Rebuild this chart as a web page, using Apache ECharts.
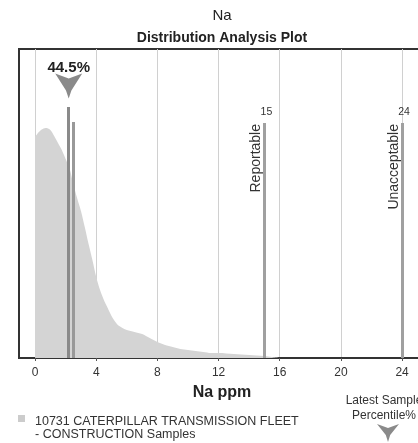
<!DOCTYPE html>
<html>
<head>
<meta charset="utf-8">
<script src="https://cdn.jsdelivr.net/npm/echarts@6/dist/echarts.min.js"></script>
<style>
html,body{margin:0;padding:0;overflow:hidden;background:#fff;}
#c{width:444px;height:443px;}
</style>
</head>
<body>
<div id="c"></div>
<script>
// ---- data ----
const densityX = [0,0.25,0.5,0.75,1.0,1.25,1.5,1.75,2.0,2.25,2.5,2.75,3.0,3.25,3.5,3.75,4.0,4.25,4.5,4.75,5.0,5.25,5.5,6.0,6.5,7.0,7.5,8.0,8.5,9.0,9.5,10,10.5,11,11.5,12,13,14,15,15.5,16];
const densityY = [221,226,229,230,228,222,215,208,199,190,174,160,147,131,114,98,81,68,58,50,42,36,32,28,26,24,20,16,13,11,9,8,7,6,5,5,4,3,2,1,0];
const latestValue = 2.2;
const latestPercentile = '44.5%';
const previousValue = 2.5;
const limitValues = [15, 24];
const limitNames = ['Reportable', 'Unacceptable'];
const xTicks = [0, 4, 8, 12, 16, 20, 24];
const titleText = 'Na';
const subTitleText = 'Distribution Analysis Plot';
const xAxisName = 'Na ppm';
const legendLines = ['10731 CATERPILLAR TRANSMISSION FLEET', '- CONSTRUCTION Samples'];
const percentileCaption = ['Latest Sample', 'Percentile%'];

const FONT = '"Liberation Sans", Arial, sans-serif';
const arrowPath = 'path://M0,0 L50,20 L100,0 L60,68 L50,100 L40,68 Z';

const seriesData = densityX.map((x, i) => [x, densityY[i]]);

const limitLines = limitValues.map((v, i) => [
  {coord: [v, 0]},
  {coord: [v, 235], label: {show: true, position: 'insideEndTop', formatter: limitNames[i], fontSize: 14, color: '#333', fontFamily: FONT, distance: 1}}
]);
const limitNumberPoints = limitValues.map((v) => ({
  coord: [v, 235],
  symbol: 'circle',
  symbolSize: 0,
  label: {show: true, position: 'top', distance: 5, offset: [2, 0], formatter: String(v), fontSize: 10.5, fontWeight: 'normal', color: '#333', fontFamily: FONT}
}));

const chart = echarts.init(document.getElementById('c'), null, {renderer: 'canvas'});
chart.setOption({
  animation: false,
  backgroundColor: '#fff',
  textStyle: {fontFamily: FONT},
  title: {
    text: titleText,
    subtext: subTitleText,
    left: 'center',
    top: 3,
    itemGap: 8,
    textStyle: {fontSize: 15, fontWeight: 'normal', color: '#222', fontFamily: FONT},
    subtextStyle: {fontSize: 14, fontWeight: 'bold', color: '#222', fontFamily: FONT}
  },
  grid: {left: 19, right: 19, top: 49, bottom: 85, show: true, borderColor: '#333', borderWidth: 2, backgroundColor: '#fff'},
  xAxis: {
    type: 'value',
    min: -1.05,
    max: 25.5,
    name: xAxisName,
    nameLocation: 'middle',
    nameGap: 27,
    nameTextStyle: {fontSize: 16, fontWeight: 'bold', color: '#222', fontFamily: FONT},
    axisLine: {show: true, lineStyle: {color: '#333', width: 2}},
    axisTick: {show: true, length: 3, customValues: xTicks, lineStyle: {color: '#555'}},
    axisLabel: {customValues: xTicks, fontSize: 12, color: '#333', margin: 9, fontFamily: FONT},
    splitLine: {show: true, lineStyle: {color: '#d0d0d0', width: 1}}
  },
  yAxis: {type: 'value', min: 0, max: 309, show: false, splitLine: {show: false}},
  series: [{
    name: 'Samples',
    type: 'line',
    data: seriesData,
    smooth: 0.3,
    showSymbol: false,
    lineStyle: {width: 0},
    areaStyle: {color: '#d4d4d4', opacity: 1},
    z: 2,
    markLine: {
      silent: true,
      symbol: 'none',
      lineStyle: {type: 'solid', color: '#a0a0a0', width: 3},
      label: {show: false},
      data: [
        [{coord: [latestValue, 0], lineStyle: {color: '#8a8a8a', width: 3}}, {coord: [latestValue, 251]}],
        [{coord: [previousValue, 0], lineStyle: {color: '#999', width: 3}}, {coord: [previousValue, 236]}]
      ].concat(limitLines)
    },
    markPoint: {
      silent: true,
      data: [{
        coord: [latestValue, 272],
        symbol: arrowPath,
        symbolSize: [27, 25],
        itemStyle: {color: '#8a8a8a'},
        label: {show: true, position: 'top', distance: -2, formatter: latestPercentile, fontSize: 15, fontWeight: 'bold', color: '#222', fontFamily: FONT}
      }].concat(limitNumberPoints)
    }
  }],
  graphic: [
    {type: 'rect', shape: {x: 18, y: 415, width: 7, height: 7}, style: {fill: '#cccccc'}},
    {type: 'text', x: 35, y: 415, style: {text: legendLines.join('\n'), font: '12.5px ' + FONT, fill: '#333', lineHeight: 13, textAlign: 'left', textVerticalAlign: 'top'}},
    {type: 'text', x: 384, y: 393, style: {text: percentileCaption.join('\n'), font: '12px ' + FONT, fill: '#333', lineHeight: 15, textAlign: 'center', textVerticalAlign: 'top'}},
    {type: 'polygon', shape: {points: [[377,424],[388,428],[399,424],[390.2,434.9],[388,442],[385.8,434.9]]}, style: {fill: '#8a8a8a'}}
  ]
});
</script>
</body>
</html>
